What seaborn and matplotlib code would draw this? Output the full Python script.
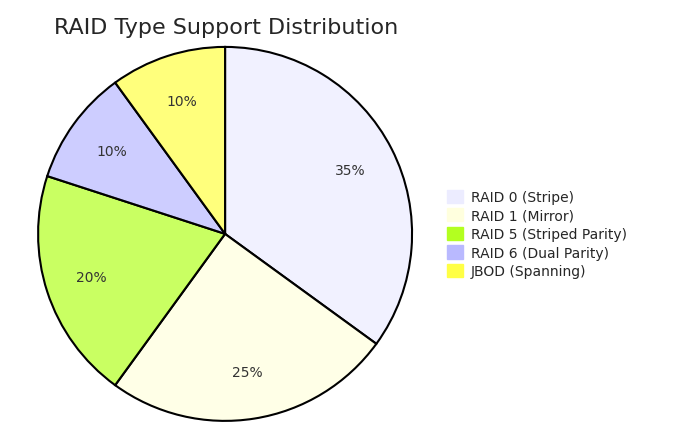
import matplotlib
matplotlib.use("Agg")
import matplotlib.pyplot as plt
import seaborn as sns
from matplotlib.patches import Patch
from matplotlib.colors import to_rgba

categories = ["RAID 0 (Stripe)", "RAID 1 (Mirror)", "RAID 5 (Striped Parity)", "RAID 6 (Dual Parity)", "JBOD (Spanning)"]
values = [35, 25, 20, 10, 10]
colors = ["#ECECFF", "#ffffde", "#b3ff20", "#b9b9ff", "#ffff45"]

sns.set_style("white")
fig = plt.figure(figsize=(6.99, 4.35), dpi=100)
ax = fig.add_axes([0.0545, 0.03, 0.535, 0.86])
wedges, texts, autotexts = ax.pie(values, colors=[to_rgba(c, 0.7) for c in colors], startangle=90, counterclock=False,
    autopct="%1.0f%%", pctdistance=0.75,
    wedgeprops=dict(edgecolor="black", linewidth=1.5),
    textprops=dict(fontsize=10, color="#333333"))
ax.set_xlim(-1.0, 1.0)
ax.set_ylim(-1.0, 1.0)
ax.set_aspect("equal")
fig.text(0.077, 0.935, "RAID Type Support Distribution", fontsize=16, ha="left", va="center")
handles = [Patch(facecolor=c, edgecolor=c) for c in colors]
fig.legend(handles, categories, loc="center left", bbox_to_anchor=(0.622, 0.46), frameon=False,
           fontsize=10, handlelength=1.1, handleheight=1.1, handletextpad=0.6, labelspacing=0.3)
fig.savefig("out.png", dpi=100)
